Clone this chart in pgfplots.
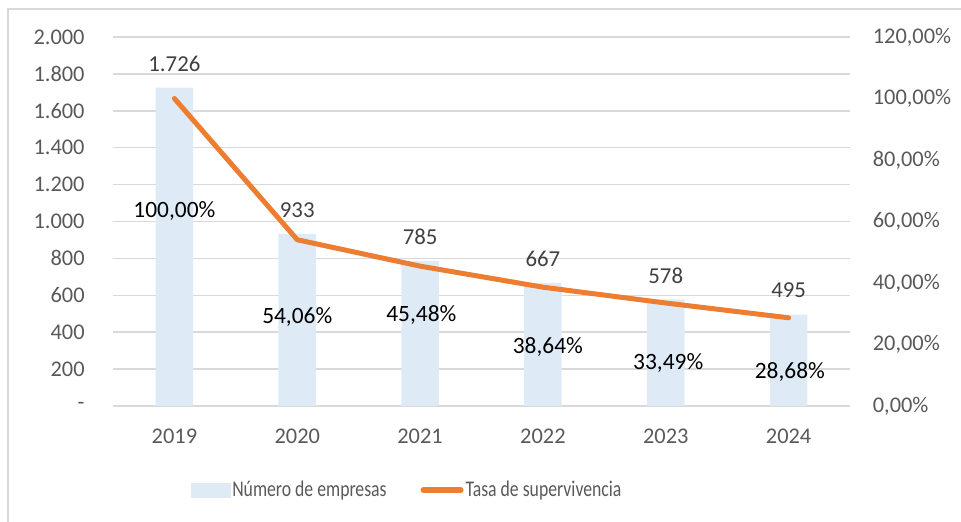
\documentclass[border=0pt]{standalone}
\usepackage{fontspec}
\setmainfont{Carlito}
\newfontfamily\condensed[FakeStretch=0.79]{Carlito}
\usepackage{pgfplots}
\pgfplotsset{compat=1.18}
\definecolor{barblue}{HTML}{DEEBF7}
\definecolor{lineorange}{HTML}{ED7D31}
\definecolor{gridgray}{HTML}{D9D9D9}
\definecolor{ticktext}{HTML}{595959}
\definecolor{labeltext}{HTML}{404040}
\begin{document}
\begin{tikzpicture}
\useasboundingbox (0,0) rectangle (480.5pt,261pt);
\draw[gridgray, line width=0.8pt] (4.1pt,0pt) -- (4.1pt,256.5pt) -- (480.5pt,256.5pt);
\begin{axis}[
  at={(56.5pt,58pt)}, anchor=south west,
  scale only axis, width=368.5pt, height=184.5pt,
  xmin=-0.5, xmax=5.5, ymin=0, ymax=2000,
  axis line style={draw=none},
  major tick length=0pt,
  ymajorgrids, grid style={gridgray, line width=0.75pt},
  ytick={0,200,...,2000},
  yticklabels={-,200,400,600,800,1.000,1.200,1.400,1.600,1.800,2.000},
  xtick={0,1,2,3,4,5},
  xticklabels={2019,2020,2021,2022,2023,2024},
  tick label style={font=\fontsize{11.2}{13}\selectfont, text=ticktext},
  yticklabel style={inner sep=0pt, anchor=east, xshift=-14pt},
  xticklabel style={inner sep=0pt, anchor=north, yshift=-11.5pt},
  /pgf/number format/assume math mode=true,
  ybar, bar width=18.8pt,
  nodes near coords={\pgfmathprintnumber[1000 sep={.}]{\pgfplotspointmeta}},
  every node near coord/.append style={anchor=center, yshift=12pt, inner sep=0pt, font=\fontsize{11.4}{13}\selectfont, text=labeltext},
]
\addplot[fill=barblue, draw=none] coordinates {(0,1726) (1,933) (2,785) (3,667) (4,578) (5,495)};
\end{axis}
\begin{axis}[
  at={(56.5pt,58pt)}, anchor=south west,
  scale only axis, width=368.5pt, height=184.5pt,
  xmin=-0.5, xmax=5.5, ymin=0, ymax=120,
  axis y line*=right, hide x axis,
  axis line style={draw=none},
  major tick length=0pt,
  ytick={0,20,...,120},
  yticklabels={{0,00\%},{20,00\%},{40,00\%},{60,00\%},{80,00\%},{100,00\%},{120,00\%}},
  tick label style={font=\fontsize{11.2}{13}\selectfont, text=ticktext},
  yticklabel style={inner sep=0pt, anchor=west, xshift=11.2pt},
  legend columns=2,
  legend style={at={(0.3989,-0.2276)}, anchor=center, draw=none, fill=none,
    font=\condensed\fontsize{11.2}{12}\selectfont, text=ticktext,
    inner sep=0pt, nodes={inner sep=1pt},
    /tikz/every even column/.append style={column sep=16pt}},
]
\addlegendimage{legend image code/.code={\fill[barblue] (0pt,-3.5pt) rectangle (19.5pt,3.5pt);}}
\addlegendentry{Número de empresas}
\addplot[lineorange, line width=2.5pt, line cap=round, line join=round, mark=none,
  legend image code/.code={\draw[lineorange, line width=3pt, line cap=round] (1.5pt,0pt) -- (20pt,0pt);}]
  coordinates {(0,100) (1,54.06) (2,45.48) (3,38.64) (4,33.49) (5,28.68)};
\addlegendentry{Tasa de supervivencia}
\begin{scope}[every node/.style={font=\fontsize{11.7}{13}\selectfont, text=black, inner sep=0pt}]
\node at (axis cs:0,63.4) {100,00\%};
\node at (axis cs:1,29.04) {54,06\%};
\node at (axis cs:2.01,29.6) {45,48\%};
\node at (axis cs:3.04,19.09) {38,64\%};
\node at (axis cs:4.02,14.08) {33,49\%};
\node at (axis cs:5.01,11.15) {28,68\%};
\end{scope}
\end{axis}
\end{tikzpicture}
\end{document}
